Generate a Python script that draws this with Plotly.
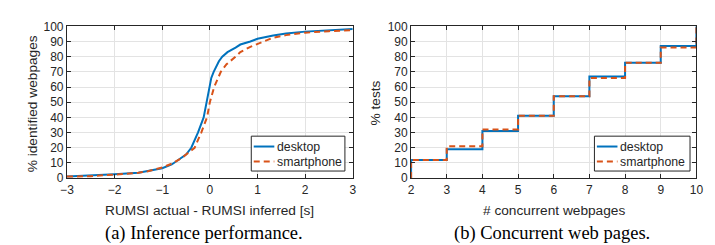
import plotly.graph_objects as go

# Left panel: CDF of RUMSI error
desk_x = [-3, -2.5, -2, -1.5, -1.3, -1.0, -0.8, -0.6, -0.5, -0.39, -0.25, -0.13, -0.065, -0.01, 0.03, 0.08, 0.19, 0.26, 0.37, 0.54, 0.64, 0.85, 1.0, 1.33, 1.6, 2.0, 2.5, 3.0]
desk_y = [1, 1.5, 2.5, 3.5, 4.5, 6.5, 9, 13, 15.5, 20, 30, 40, 50, 60, 66, 70, 77, 80, 83, 86, 88, 90, 91.8, 94, 95.3, 96.5, 97.5, 98.2]
smart_x = [-3, -2.5, -2, -1.5, -1.3, -1.0, -0.8, -0.6, -0.5, -0.32, -0.18, -0.06, 0.0, 0.09, 0.23, 0.35, 0.54, 0.64, 0.85, 1.0, 1.33, 1.6, 2.0, 2.5, 3.0]
smart_y = [1, 1.3, 2.3, 3.5, 4.5, 7, 9.5, 13, 15.5, 20, 30, 40, 50, 60, 70, 75, 80, 83, 86.5, 88.5, 92.5, 94.2, 95.8, 96.8, 97.5]

# Right panel: concurrent webpages
conc_x = [2, 2, 3, 4, 5, 6, 7, 8, 9, 10]
conc_desk = [0, 12, 19, 31, 41, 54, 67, 76, 87, 100]
conc_smart = [0, 12, 21, 32, 41, 54, 66, 76, 86, 100]

left_ticks = [-3, -2, -1, 0, 1, 2, 3]
right_ticks = [2, 3, 4, 5, 6, 7, 8, 9, 10]
y_ticks = [0, 10, 20, 30, 40, 50, 60, 70, 80, 90, 100]
series_names = ["desktop", "smartphone"]

BLUE = "#0072BD"
ORANGE = "#D95319"
DASH = "6px,4px"
W, H = 715, 245
FONT = "Liberation Sans, Arial, sans-serif"
SERIF = "Liberation Serif, Times New Roman, serif"
AX = "#262626"

fig = go.Figure()
fig.add_trace(go.Scatter(x=desk_x, y=desk_y, mode="lines", name=series_names[0],
                         line=dict(color=BLUE, width=2), xaxis="x", yaxis="y"))
fig.add_trace(go.Scatter(x=smart_x, y=smart_y, mode="lines", name=series_names[1],
                         line=dict(color=ORANGE, width=2, dash=DASH), xaxis="x", yaxis="y"))
fig.add_trace(go.Scatter(x=conc_x, y=conc_desk, mode="lines", name=series_names[0], line_shape="hv",
                         line=dict(color=BLUE, width=2), xaxis="x2", yaxis="y2"))
fig.add_trace(go.Scatter(x=conc_x, y=conc_smart, mode="lines", name=series_names[1], line_shape="hv",
                         line=dict(color=ORANGE, width=2, dash=DASH), xaxis="x2", yaxis="y2"))

ax_common = dict(showline=True, linecolor=AX, linewidth=1, mirror="ticks",
                 ticks="inside", ticklen=4, tickcolor=AX,
                 showgrid=True, gridcolor="#e3e3e3", gridwidth=1, zeroline=False,
                 tickfont=dict(family=FONT, size=12, color=AX))
ytop = 1 - 12 / H
ybot = 1 - 173 / H

fig.update_layout(
    width=W, height=H, margin=dict(l=0, r=0, t=0, b=0),
    paper_bgcolor="white", plot_bgcolor="white", showlegend=False,
    xaxis=dict(domain=[53 / W, 344.5 / W], range=[-3, 3], tickvals=left_ticks, anchor="y", **ax_common),
    yaxis=dict(domain=[ybot, ytop], range=[0, 100], tickvals=y_ticks, anchor="x", **ax_common),
    xaxis2=dict(domain=[404 / W, 695 / W], range=[2, 10], tickvals=right_ticks, anchor="y2", **ax_common),
    yaxis2=dict(domain=[ybot, ytop], range=[0, 100], tickvals=y_ticks, anchor="x2", **ax_common),
)

def px(x):
    return x / W

def py(y):
    return 1 - y / H

def ann(text, x, y, size=12, family=FONT, angle=0, color=AX, xanchor="center"):
    fig.add_annotation(text=text, x=px(x), y=py(y), xref="paper", yref="paper",
                       showarrow=False, textangle=angle, xanchor=xanchor, yanchor="middle",
                       font=dict(family=family, size=size, color=color))

# custom MATLAB-style legends
def legend_box(x0, x1, y0, y1):
    fig.add_shape(type="rect", xref="paper", yref="paper", x0=px(x0), x1=px(x1), y0=py(y1), y1=py(y0),
                  fillcolor="white", line=dict(color=AX, width=1), layer="above")
    rows = [(139.5, BLUE, "solid", series_names[0]), (155.5, ORANGE, DASH, series_names[1])]
    for yy, col, dash, name in rows:
        fig.add_shape(type="line", xref="paper", yref="paper", x0=px(x0 + 2.5), x1=px(x0 + 23.5),
                      y0=py(yy), y1=py(yy), line=dict(color=col, width=2, dash=dash), layer="above")
        ann(name, x0 + 24.5, yy, size=12.3, xanchor="left")

legend_box(241, 336.5, 128.5, 165.5)
legend_box(591, 688.5, 128.5, 165.5)

ann("RUMSI actual - RUMSI inferred [s]", 198.8, 207, size=13.7)
ann("# concurrent webpages", 549.5, 207, size=13.7)
ann("% identified webpages", 18, 94, angle=-90, size=13.7)
ann("% tests", 368, 93, angle=-90, size=13.7)
ann("(a) Inference performance.", 193, 232, size=18.5, family=SERIF, color="black")
ann("(b) Concurrent web pages.", 548, 232, size=18.5, family=SERIF, color="black")

fig.write_html("out.html")
